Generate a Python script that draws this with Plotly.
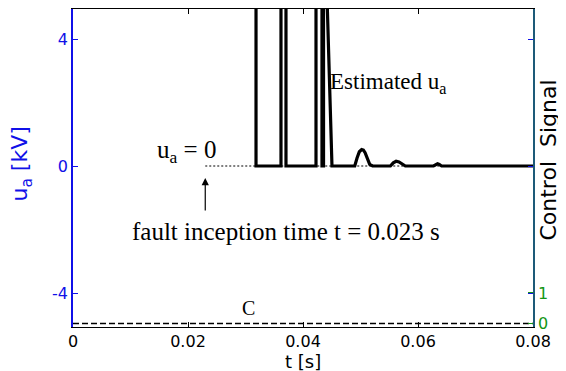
import plotly.graph_objects as go

# ---- data ----
t_est = [0.03183, 0.03183, 0.03617, 0.03617, 0.03704, 0.03704, 0.04226, 0.04226, 0.04330, 0.04330,
         0.04357, 0.04357, 0.04374, 0.04504, 0.0490, 0.0494, 0.0498, 0.0502, 0.0505, 0.0508,
         0.0512, 0.0516, 0.0521, 0.0552, 0.0557, 0.0562, 0.0567, 0.0572, 0.0578, 0.0627,
         0.0631, 0.0634, 0.0637, 0.0641, 0.0800]
u_est = [8.0, 0.0, 0.0, 8.0, 8.0, 0.0, 0.0, 8.0, 8.0, 0.0,
         0.0, 8.0, 8.0, 0.0, 0.0, 0.25, 0.45, 0.52, 0.5, 0.42,
         0.22, 0.05, 0.0, 0.0, 0.1, 0.15, 0.13, 0.06, 0.0, 0.0,
         0.05, 0.07, 0.05, 0.0, 0.0]
t_true = [0.023, 0.080]
u_true = [0.0, 0.0]
t_ctrl = [0.0, 0.080]
c_ctrl = [0.0, 0.0]

x_ticks = [0, 0.02, 0.04, 0.06, 0.08]
x_tick_text = ["0", "0.02", "0.04", "0.06", "0.08"]
y_ticks = [-4, 0, 4]
y_tick_text = ["-4", "0", "4"]
y2_ticks = [0, 1]
y2_tick_text = ["0", "1"]

BLUE = "#1010e8"
TEAL = "#1d5a78"
GREEN = "#149614"
SANS = "DejaVu Sans"
SERIF = "Liberation Serif"

fig = go.Figure()
fig.add_trace(go.Scatter(x=t_true, y=u_true, mode="lines",
                         line=dict(color="black", width=1.2, dash="2px,2px"), showlegend=False))
fig.add_trace(go.Scatter(x=t_est, y=u_est, mode="lines",
                         line=dict(color="black", width=3.2), showlegend=False))
fig.add_trace(go.Scatter(x=t_ctrl, y=c_ctrl, mode="lines", yaxis="y2",
                         line=dict(color="black", width=1.3, dash="6px,3px"), showlegend=False))

# page body has an 8px margin, so the figure is drawn 8px smaller and offset
fig.update_layout(
    width=558, height=363,
    margin=dict(l=65, r=33, t=1, b=44),
    paper_bgcolor="white", plot_bgcolor="white",
    xaxis=dict(range=[0, 0.08], tickvals=x_ticks, ticktext=x_tick_text, automargin=False,
               showgrid=False, zeroline=False, showline=True, linecolor="black",
               linewidth=1, mirror="ticks", ticks="inside", ticklen=5, tickcolor="black",
               tickfont=dict(family=SANS, size=16, color="black")),
    yaxis=dict(range=[-5.07, 4.945], tickvals=y_ticks, ticktext=y_tick_text, automargin=False,
               showgrid=False, zeroline=False, showline=True, linecolor=BLUE,
               linewidth=1.5, mirror="ticks", ticks="inside", ticklen=5, tickcolor=BLUE,
               tickfont=dict(family=SANS, size=16, color=BLUE)),
    yaxis2=dict(range=[-0.115, 10.31], tickvals=y2_ticks, ticktext=y2_tick_text,
                overlaying="y", side="right", automargin=False,
                showgrid=False, zeroline=False, showline=True, linecolor=TEAL,
                linewidth=1.5, ticks="inside", ticklen=5, tickcolor=GREEN,
                tickfont=dict(family=SANS, size=16, color=GREEN)),
    annotations=[
        dict(x=0.5, y=-0.108, xref="paper", yref="paper", text="t [s]",
             showarrow=False, xanchor="center", yanchor="middle",
             font=dict(family=SANS, size=18, color="black")),
        dict(x=-0.1109, y=0.514, xref="paper", yref="paper", text="u<sub>a</sub> [kV]",
             showarrow=False, xanchor="center", yanchor="middle", textangle=-90,
             font=dict(family=SANS, size=22, color=BLUE)),
        dict(x=1.0348, y=0.5235, xref="paper", yref="paper", text="Control  Signal",
             showarrow=False, xanchor="center", yanchor="middle", textangle=-90,
             font=dict(family=SANS, size=22, color="black")),
        dict(x=0.0444, y=2.61, xref="x", yref="y", text="Estimated u<sub>a</sub>",
             showarrow=False, xanchor="left", yanchor="middle",
             font=dict(family=SERIF, size=23, color="black")),
        dict(x=0.0142, y=0.45, xref="x", yref="y", text="u<sub>a</sub> = 0",
             showarrow=False, xanchor="left", yanchor="middle",
             font=dict(family=SERIF, size=25, color="black")),
        dict(x=0.0099, y=-2.05, xref="x", yref="y", text="fault inception time t = 0.023 s",
             showarrow=False, xanchor="left", yanchor="middle",
             font=dict(family=SERIF, size=25, color="black")),
        dict(x=0.023, y=-0.38, ax=0.023, ay=-1.45, xref="x", yref="y", axref="x", ayref="y",
             text="", showarrow=True, arrowhead=2, arrowsize=1.2, arrowwidth=1.2,
             arrowcolor="black"),
        dict(x=0.0306, y=-4.47, xref="x", yref="y", text="C",
             showarrow=False, xanchor="center", yanchor="middle",
             font=dict(family=SERIF, size=20, color="black")),
    ],
)

fig.write_html("out.html")
